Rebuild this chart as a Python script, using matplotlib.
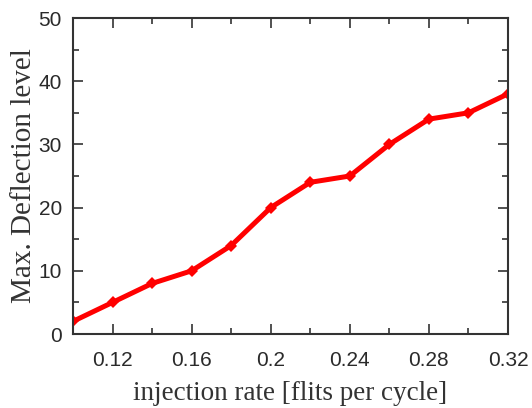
import matplotlib
matplotlib.use("Agg")
import matplotlib.pyplot as plt
from matplotlib.ticker import MultipleLocator, FixedLocator

# injection rate vs max deflection level
rates = [0.10, 0.12, 0.14, 0.16, 0.18, 0.20, 0.22, 0.24, 0.26, 0.28, 0.30, 0.32]
deflection = [2, 5, 8, 10, 14, 20, 24, 25, 30, 34, 35, 38]
xtick_vals = [0.12, 0.16, 0.20, 0.24, 0.28, 0.32]
xtick_labels = ["0.12", "0.16", "0.2", "0.24", "0.28", "0.32"]

fig = plt.figure(figsize=(5.32, 4.08), dpi=100)
ax = fig.add_axes([73 / 532, 1 - 334 / 408, (508 - 73) / 532, (334 - 18) / 408])

ax.plot(rates, deflection, color="#ff0000", linewidth=3.6,
        marker="D", markersize=6, markeredgewidth=0)

ax.set_xlim(0.10, 0.32)
ax.set_ylim(0, 50)
ax.xaxis.set_major_locator(FixedLocator(xtick_vals))
ax.set_xticklabels(xtick_labels)
ax.xaxis.set_minor_locator(FixedLocator([0.14, 0.18, 0.22, 0.26, 0.30]))
ax.yaxis.set_major_locator(MultipleLocator(10))
ax.yaxis.set_minor_locator(MultipleLocator(5))

ax.tick_params(which="both", direction="in", top=True, right=True, width=1.2, color="#333333")
ax.tick_params(which="major", length=7, labelsize=15)
ax.tick_params(axis="x", which="major", pad=12)
ax.tick_params(axis="y", which="major", pad=8)
ax.tick_params(which="minor", length=4)
for lab in ax.get_xticklabels() + ax.get_yticklabels():
    lab.set_family("Liberation Sans")
    lab.set_color("#2a2a2a")
for s in ax.spines.values():
    s.set_linewidth(1.5)
    s.set_color("#333333")

ax.set_xlabel("injection rate [flits per cycle]", family="Liberation Serif",
              fontsize=19.5, color="#333333", labelpad=8)
ax.set_ylabel("Max. Deflection level", family="Liberation Serif",
              fontsize=21, color="#333333", labelpad=1)

fig.savefig("out.png", dpi=100)
